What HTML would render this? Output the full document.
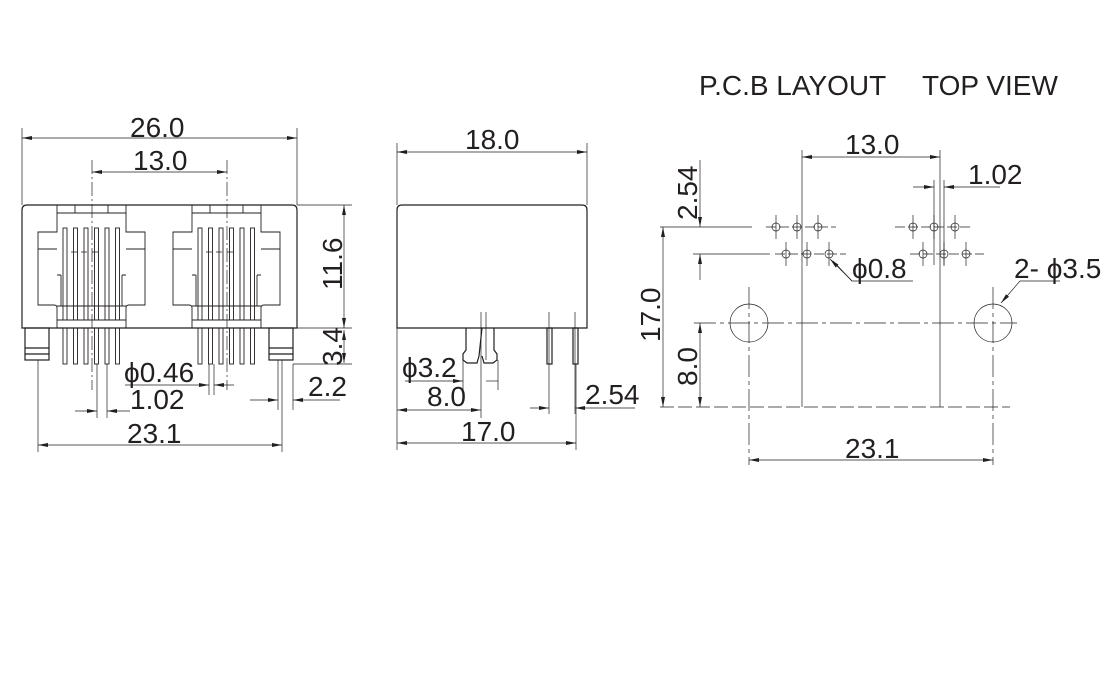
<!DOCTYPE html>
<html><head><meta charset="utf-8"><style>
html,body{margin:0;padding:0;background:#fff;}
svg{display:block;}
text{font-family:"Liberation Sans",sans-serif;fill:#231f20;}
</style></head><body>
<svg width="1120" height="688" viewBox="0 0 1120 688" xmlns="http://www.w3.org/2000/svg">
<defs>
<marker id="a" viewBox="0 0 10 4" refX="10" refY="2" markerWidth="10" markerHeight="4" orient="auto-start-reverse" markerUnits="userSpaceOnUse"><path d="M0,0 L10,2 L0,4z" fill="#231f20"/></marker>
<g id="jack" fill="none" stroke="#231f20" stroke-width="0.9">
<path d="M57,205 V213 H126 V205 M75,205 V213 M108,205 V213"/>
<path d="M57,213 V232 H38 V305 H54 Q57,305 57,308 V328 M126,213 V232 H145 V305 H129 Q126,305 126,308 V328"/>
<path d="M38,249 H57 M126,249 H145"/>
<path d="M57,320 H126 M57,306 H126 M61,275 H57 M122,275 H126 M61,275 V306 M122,275 V306"/>
<g>
<rect x="63" y="228" width="4" height="92"/><rect x="73.5" y="228" width="4" height="92"/><rect x="84" y="228" width="4" height="92"/><rect x="94.5" y="228" width="4" height="92"/><rect x="105" y="228" width="4" height="92"/><rect x="115.5" y="228" width="4" height="92"/>
<rect x="63" y="328" width="4" height="36"/><rect x="73.5" y="328" width="4" height="36"/><rect x="84" y="328" width="4" height="36"/><rect x="94.5" y="328" width="4" height="36"/><rect x="105" y="328" width="4" height="36"/><rect x="115.5" y="328" width="4" height="36"/>
</g>
<path d="M71,252 H77 M81,252 H87 M92,252 H98" stroke-width="0.8"/>
</g>
</defs>

<!-- FRONT VIEW -->
<g fill="none" stroke="#231f20" stroke-width="1.2">
<path d="M22,210 Q22,205 27,205 H292 Q297,205 297,210 V328 H22 Z"/>
<rect x="25" y="328" width="24" height="32"/><path d="M25,348 H49 M25,354 H49"/>
<rect x="269" y="328" width="24" height="32"/><path d="M269,348 H293 M269,354 H293"/>
</g>
<use href="#jack"/>
<use href="#jack" transform="translate(135,0)"/>
<g stroke="#231f20" stroke-width="0.7" fill="none">
<path d="M92,160 V390" stroke-dasharray="14,3,2,3"/>
<path d="M227,160 V390" stroke-dasharray="14,3,2,3"/>
<path d="M22,128 V205 M297,128 V205 M297,205 H352 M297,328 H352 M293,364 H352"/>
<path d="M38,360 V452 M282,360 V452 M97,364 V418 M107,364 V418 M209,364 V395 M214,364 V395 M278,360 V410 M293,364 V410"/>
<path d="M22,138 H297" marker-start="url(#a)" marker-end="url(#a)"/>
<path d="M92,172 H227" marker-start="url(#a)" marker-end="url(#a)"/>
<path d="M344,205 V328" marker-start="url(#a)" marker-end="url(#a)"/>
<path d="M344,330 V363" marker-start="url(#a)" marker-end="url(#a)"/>
<path d="M38,445 H282" marker-start="url(#a)" marker-end="url(#a)"/>
<path d="M125,385 H209" marker-end="url(#a)"/><path d="M234,385 H214" marker-end="url(#a)"/>
<path d="M75,411 H97" marker-end="url(#a)"/><path d="M130,411 H107" marker-end="url(#a)"/>
<path d="M250,400 H278" marker-end="url(#a)"/><path d="M340,400 H293" marker-end="url(#a)"/>
</g>
<g font-size="28">
<text x="130" y="137">26.0</text>
<text x="133" y="170">13.0</text>
<text x="124" y="382"><tspan font-size="28">ϕ</tspan>0.46</text>
<text x="130" y="409">1.02</text>
<text x="308" y="396">2.2</text>
<text x="127" y="443">23.1</text>
<text transform="translate(342,290) rotate(-90)">11.6</text>
<text transform="translate(342,366) rotate(-90)">3.4</text>
</g>

<!-- SIDE VIEW -->
<g fill="none" stroke="#231f20" stroke-width="1.2">
<path d="M397,210 Q397,205 402,205 H582 Q587,205 587,210 V328 H397 Z"/>
<path d="M466,328 V350 L463,354 V360 L467,363 H477 L479,356 L482,328 M494,328 V350 L497,354 V360 L493,363 H484 L482,356"/>
<rect x="547" y="328" width="5" height="36"/><rect x="573" y="328" width="5" height="36"/>
</g>
<g stroke="#231f20" stroke-width="0.7" fill="none">
<path d="M397,143 V205 M587,143 V205 M397,328 V450 M576,364 V450 M481,312 V418" />
<path d="M549,312 V414 M575,312 V414 M463,360 V390 M498,360 V390 M486,312 V360" />
<path d="M397,152 H587" marker-start="url(#a)" marker-end="url(#a)"/>
<path d="M397,443 H576" marker-start="url(#a)" marker-end="url(#a)"/>
<path d="M397,410 H481" marker-start="url(#a)" marker-end="url(#a)"/>
<path d="M405,381 H463" marker-end="url(#a)"/><path d="M498,381 H486"/>
<path d="M530,408 H549" marker-end="url(#a)"/><path d="M635,408 H575" marker-end="url(#a)"/>
</g>
<g font-size="28">
<text x="465" y="149">18.0</text>
<text x="402" y="377"><tspan font-size="28">ϕ</tspan>3.2</text>
<text x="427" y="406">8.0</text>
<text x="585" y="404">2.54</text>
<text x="461" y="441">17.0</text>
</g>

<!-- PCB LAYOUT -->
<g font-size="28">
<text x="699" y="95">P.C.B LAYOUT</text>
<text x="922" y="95">TOP VIEW</text>
<text x="845" y="154">13.0</text>
<text x="968" y="184">1.02</text>
<text x="852" y="278"><tspan font-size="28">ϕ</tspan>0.8</text>
<text x="1014" y="278">2- <tspan font-size="28">ϕ</tspan>3.5</text>
<text x="845" y="458">23.1</text>
<text transform="translate(697,220) rotate(-90)">2.54</text>
<text transform="translate(660,342) rotate(-90)">17.0</text>
<text transform="translate(697,386) rotate(-90)">8.0</text>
</g>
<g stroke="#231f20" stroke-width="0.7" fill="none">
<path d="M802,150 V407 M940,150 V407"/>
<path d="M802,157 H940" marker-start="url(#a)" marker-end="url(#a)"/>
<path d="M934,180 V265 M944,180 V265"/>
<path d="M913,187 H934" marker-end="url(#a)"/><path d="M1000,187 H944" marker-end="url(#a)"/>
<path d="M660,227 H752 M693,254 H770"/>
<path d="M700,160 V227" marker-end="url(#a)"/><path d="M700,280 V254" marker-end="url(#a)"/>
<path d="M663,227 V407" marker-start="url(#a)" marker-end="url(#a)"/>
<path d="M700,323 V407" marker-start="url(#a)" marker-end="url(#a)"/>
<path d="M694,323 H1017" stroke-dasharray="22,4,4,4"/>
<path d="M660,407 H1010" stroke-dasharray="14,4"/>
<path d="M749,287 V465 M993,287 V465" stroke-dasharray="22,4,4,4"/>
<path d="M749,460 H993" marker-start="url(#a)" marker-end="url(#a)"/>
<circle cx="749" cy="323" r="19"/><circle cx="993" cy="323" r="19"/>
<path d="M913,281 H852 L833,261" /><path d="M852,281 L830,259" marker-end="url(#a)"/>
<path d="M1060,281 H1020 L1001,303" marker-end="url(#a)"/>
<g>
<circle cx="776" cy="227" r="4"/><circle cx="797" cy="227" r="4"/><circle cx="818" cy="227" r="4"/>
<circle cx="913" cy="227" r="4"/><circle cx="934" cy="227" r="4"/><circle cx="955" cy="227" r="4"/>
<circle cx="786" cy="254" r="4"/><circle cx="807" cy="254" r="4"/><circle cx="829" cy="254" r="4"/>
<circle cx="923" cy="254" r="4"/><circle cx="944" cy="254" r="4"/><circle cx="966" cy="254" r="4"/>
</g>
<path d="M766,227 H836 M895,227 H972 M775,254 H846 M910,254 H984" stroke-dasharray="10,3"/>
<path d="M776,215 V239 M797,215 V239 M818,215 V239 M913,215 V239 M934,215 V239 M955,215 V239 M786,242 V266 M807,242 V266 M829,242 V266 M923,242 V266 M944,242 V266 M966,242 V266"/>
</g>
</svg>
</body></html>
